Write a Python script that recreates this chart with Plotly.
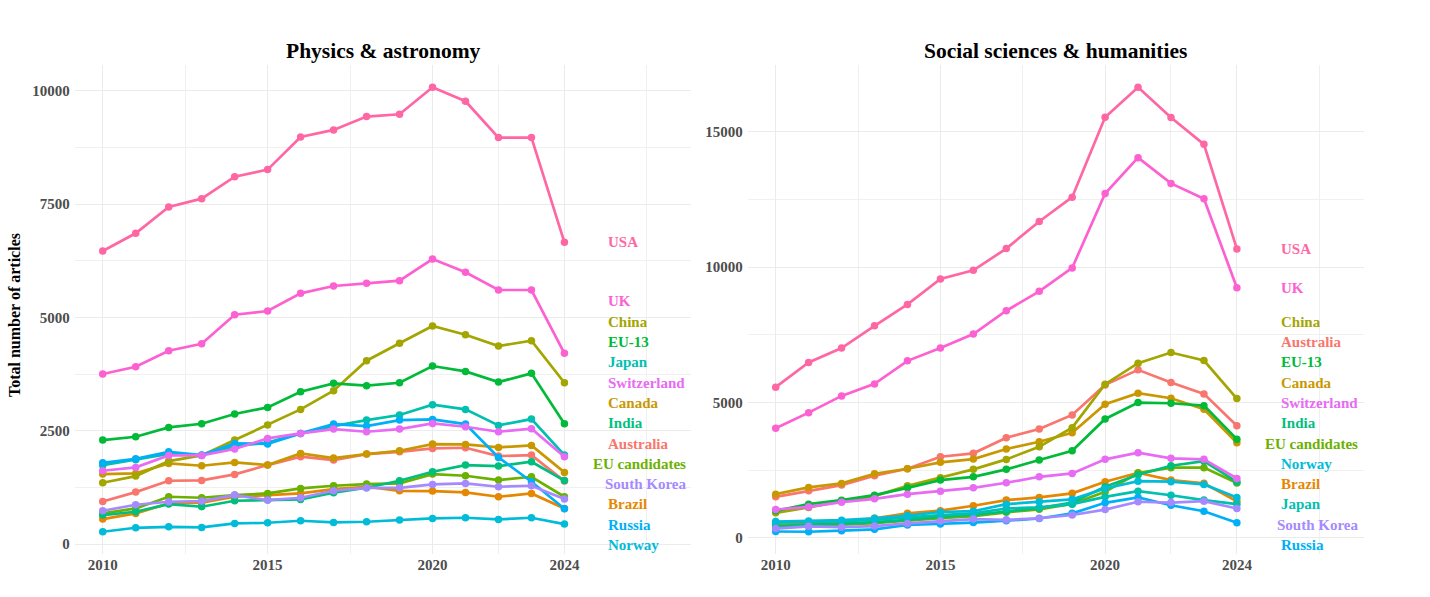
import plotly.graph_objects as go

# ---------------- data ----------------
years = list(range(2010, 2025))

countries = ["Australia", "Brazil", "Canada", "China", "EU candidates", "EU-13", "India",
             "Japan", "Norway", "Russia", "South Korea", "Switzerland", "UK", "USA"]

colors = {
    "Australia": "#F8766D", "Brazil": "#E58700", "Canada": "#C99800", "China": "#A3A500",
    "EU candidates": "#6BB100", "EU-13": "#00BA38", "India": "#00BF7D", "Japan": "#00C0AF",
    "Norway": "#00BCD8", "Russia": "#00B0F6", "South Korea": "#A58AFF",
    "Switzerland": "#E76BF3", "UK": "#FD61D1", "USA": "#FF67A4",
}

physics = {
    "USA":           [6464, 6854, 7434, 7618, 8103, 8258, 8979, 9133, 9427, 9479, 10075, 9766, 8964, 8964, 6655],
    "UK":            [3750, 3912, 4265, 4419, 5059, 5140, 5530, 5692, 5751, 5809, 6287, 5994, 5603, 5603, 4206],
    "China":         [1353, 1500, 1831, 1956, 2294, 2625, 2971, 3382, 4044, 4428, 4809, 4617, 4368, 4485, 3558],
    "EU-13":         [2294, 2367, 2574, 2654, 2868, 3015, 3360, 3545, 3493, 3558, 3927, 3809, 3574, 3765, 2654],
    "Japan":         [1740, 1860, 1990, 1960, 2160, 2240, 2441, 2603, 2735, 2846, 3074, 2971, 2618, 2757, 1963],
    "Russia":        [1794, 1880, 2036, 1965, 2221, 2210, 2441, 2647, 2603, 2735, 2750, 2647, 1912, 1375, 779],
    "Switzerland":   [1617, 1692, 1956, 1956, 2096, 2331, 2441, 2537, 2478, 2537, 2662, 2588, 2478, 2544, 1927],
    "Canada":        [1544, 1559, 1780, 1728, 1802, 1743, 2000, 1897, 1985, 2059, 2206, 2199, 2133, 2177, 1581],
    "Australia":     [941, 1147, 1397, 1404, 1537, 1743, 1927, 1853, 1985, 2036, 2110, 2125, 1941, 1963, 1390],
    "India":         [640, 713, 882, 824, 956, 971, 985, 1132, 1242, 1397, 1596, 1743, 1721, 1816, 1400],
    "EU candidates": [677, 787, 1044, 1022, 1081, 1118, 1228, 1287, 1324, 1340, 1544, 1507, 1412, 1485, 1044],
    "South Korea":   [735, 868, 934, 949, 1081, 971, 1022, 1176, 1242, 1242, 1316, 1339, 1265, 1287, 993],
    "Brazil":        [551, 677, 897, 912, 1044, 1081, 1118, 1213, 1265, 1176, 1169, 1140, 1044, 1118, 787],
    "Norway":        [272, 360, 382, 368, 456, 471, 515, 478, 493, 529, 566, 581, 544, 581, 441],
}

social = {
    "USA":           [5563, 6474, 7007, 7833, 8622, 9563, 9881, 10685, 11685, 12585, 15537, 16648, 15526, 14537, 10674],
    "UK":            [4044, 4622, 5241, 5685, 6537, 7007, 7526, 8389, 9105, 9970, 12722, 14044, 13093, 12526, 9241],
    "China":         [919, 1118, 1352, 1537, 1919, 2215, 2526, 2895, 3363, 4067, 5674, 6452, 6844, 6548, 5141],
    "Australia":     [1511, 1733, 1944, 2289, 2548, 2993, 3119, 3696, 4019, 4537, 5648, 6204, 5733, 5315, 4141],
    "Canada":        [1611, 1859, 2007, 2363, 2548, 2785, 2907, 3278, 3548, 3881, 4933, 5341, 5156, 4748, 3511],
    "EU-13":         [993, 1241, 1389, 1574, 1844, 2130, 2252, 2526, 2870, 3215, 4389, 4993, 4970, 4881, 3637],
    "Switzerland":   [1044, 1141, 1315, 1437, 1611, 1722, 1844, 2030, 2252, 2378, 2896, 3141, 2933, 2896, 2193],
    "India":         [430, 470, 520, 580, 660, 780, 850, 970, 1100, 1300, 1880, 2330, 2660, 2830, 2060],
    "EU candidates": [380, 420, 480, 540, 640, 720, 800, 940, 1050, 1250, 1700, 2390, 2590, 2590, 2020],
    "Brazil":        [470, 520, 600, 720, 900, 1000, 1180, 1390, 1490, 1640, 2070, 2400, 2130, 2010, 1350],
    "Norway":        [600, 620, 650, 720, 820, 950, 980, 1240, 1330, 1420, 1820, 2090, 2070, 1970, 1490],
    "Japan":         [560, 580, 610, 660, 760, 840, 900, 1080, 1120, 1240, 1510, 1720, 1570, 1390, 1240],
    "South Korea":   [340, 420, 390, 430, 530, 620, 690, 660, 720, 840, 1040, 1330, 1300, 1350, 1080],
    "Russia":        [230, 220, 260, 310, 470, 510, 560, 630, 710, 900, 1290, 1490, 1200, 980, 550],
}

x_breaks = [2010, 2015, 2020, 2024]
x_minor = [2012.5, 2017.5, 2022, 2026.5]
x_limits = (2010, 2027)
phys_breaks = [0, 2500, 5000, 7500, 10000]
phys_minor = [1250, 3750, 6250, 8750]
soc_breaks = [0, 5000, 10000, 15000]
soc_minor = [2500, 7500, 12500]
titles = ["Physics & astronomy", "Social sciences & humanities"]
y_title = "Total number of articles"

# ---------------- layout constants ----------------
W, H = 1430, 597
PANELS_PX = [(74.7, 691.4), (747.7, 1363.7)]
TOP_PX, BOT_PX = 65.0, 554.0
FONT = "Liberation Serif, Times New Roman, serif"
LABEL_SIZE = 15
LABEL_NUDGE = 1.3
GRID = "#EBEBEB"

# Times-Bold advance widths (per 1000 em)
TB = {'A': 722, 'B': 667, 'C': 722, 'E': 667, 'I': 389, 'J': 500, 'K': 778, 'N': 722, 'R': 722,
      'S': 556, 'U': 722, 'a': 500, 'c': 444, 'd': 556, 'e': 444, 'h': 556, 'i': 278, 'l': 278,
      'n': 556, 'o': 500, 'p': 556, 'r': 444, 's': 389, 't': 333, 'u': 556, 'w': 722, 'y': 500,
      'z': 444, '-': 333, '1': 500, '3': 500, ' ': 250}


def text_width(s, size):
    return sum(TB.get(ch, 556) for ch in s) * size / 1000.0


def expand(lo, hi, mult=0.05):
    d = (hi - lo) * mult
    return lo - d, hi + d


def place_labels(vals, lo, hi, gap, pad):
    """Stack labels with a minimum gap, as close to their values as possible (PAVA), kept inside the panel."""
    n = len(vals)
    order = sorted(range(n), key=lambda i: vals[i])
    w = [vals[order[k]] - k * gap for k in range(n)]
    blocks = []
    for v in w:
        blocks.append([v, 1])
        while len(blocks) > 1 and blocks[-2][0] / blocks[-2][1] > blocks[-1][0] / blocks[-1][1]:
            s, c = blocks.pop()
            blocks[-1][0] += s
            blocks[-1][1] += c
    z = []
    for s, c in blocks:
        z += [s / c] * c
    lb = lo + pad
    ub = hi - pad - (n - 1) * gap
    pos = [0.0] * n
    for k in range(n):
        zk = min(max(z[k], lb), ub)
        pos[order[k]] = zk + k * gap
    return pos


fig = go.Figure()
xlo, xhi = expand(*x_limits)
annotations = []

for p, (data, breaks, minor) in enumerate([(physics, phys_breaks, phys_minor),
                                            (social, soc_breaks, soc_minor)]):
    xa = "x" if p == 0 else "x2"
    ya = "y" if p == 0 else "y2"
    allv = [v for c in data for v in data[c]]
    ylo, yhi = expand(min(allv), max(allv))
    ppu = (BOT_PX - TOP_PX) / (yhi - ylo)
    left_px, right_px = PANELS_PX[p]
    ppx = (right_px - left_px) / (xhi - xlo)

    for c in countries:
        fig.add_trace(go.Scatter(
            x=years, y=data[c], mode="lines+markers", name=c, showlegend=False,
            line=dict(color=colors[c], width=2.7),
            marker=dict(color=colors[c], size=7.5),
            xaxis=xa, yaxis=ya, hoverinfo="skip"))

    last = [data[c][-1] for c in countries]
    ypos = place_labels(last, ylo, yhi, 20.3 / ppu, 9.0 / ppu)
    x_right_lim = xhi - 6.4 / ppx
    for c, yv in zip(countries, ypos):
        wdata = text_width(c, LABEL_SIZE) / ppx
        x0 = min(years[-1] + LABEL_NUDGE, x_right_lim - wdata)
        annotations.append(dict(
            x=x0, y=yv, xref=xa, yref=ya, text=c, showarrow=False,
            xanchor="left", yanchor="middle", borderpad=0,
            font=dict(family=FONT, size=LABEL_SIZE, color=colors[c], weight="bold")))

    axis_common = dict(showgrid=True, gridcolor=GRID, gridwidth=1, zeroline=False,
                       showline=False, ticks="",
                       tickfont=dict(family=FONT, size=15, color="#4D4D4D", weight="bold"))
    dom_x = [left_px / W, right_px / W]
    dom_y = [1 - BOT_PX / H, 1 - TOP_PX / H]
    xkey = "xaxis" if p == 0 else "xaxis2"
    ykey = "yaxis" if p == 0 else "yaxis2"
    fig.update_layout(**{
        xkey: dict(domain=dom_x, range=[xlo, xhi], tickvals=x_breaks, ticktext=[str(b) for b in x_breaks],
                   minor=dict(tickvals=x_minor, showgrid=True, gridcolor="#F0F0F0", gridwidth=1),
                   anchor=ya, **axis_common),
        ykey: dict(domain=dom_y, range=[ylo, yhi], tickvals=breaks, ticktext=[str(b) for b in breaks],
                   minor=dict(tickvals=minor, showgrid=True, gridcolor="#F0F0F0", gridwidth=1),
                   anchor=xa, ticklabelstandoff=4, **axis_common),
    })

    annotations.append(dict(
        x=(left_px + right_px) / 2 / W, y=1 - 51 / H, xref="paper", yref="paper",
        text=titles[p], showarrow=False, xanchor="center", yanchor="middle",
        font=dict(family=FONT, size=21.5, color="black", weight="bold")))

annotations.append(dict(
    x=14 / W, y=1 - 315 / H, xref="paper", yref="paper", text=y_title, showarrow=False,
    textangle=-90, xanchor="center", yanchor="middle",
    font=dict(family=FONT, size=16, color="black", weight="bold")))

fig.update_layout(
    width=W, height=H, margin=dict(l=0, r=0, t=0, b=0),
    paper_bgcolor="white", plot_bgcolor="white",
    annotations=annotations, showlegend=False,
)

fig.write_html("out.html")
